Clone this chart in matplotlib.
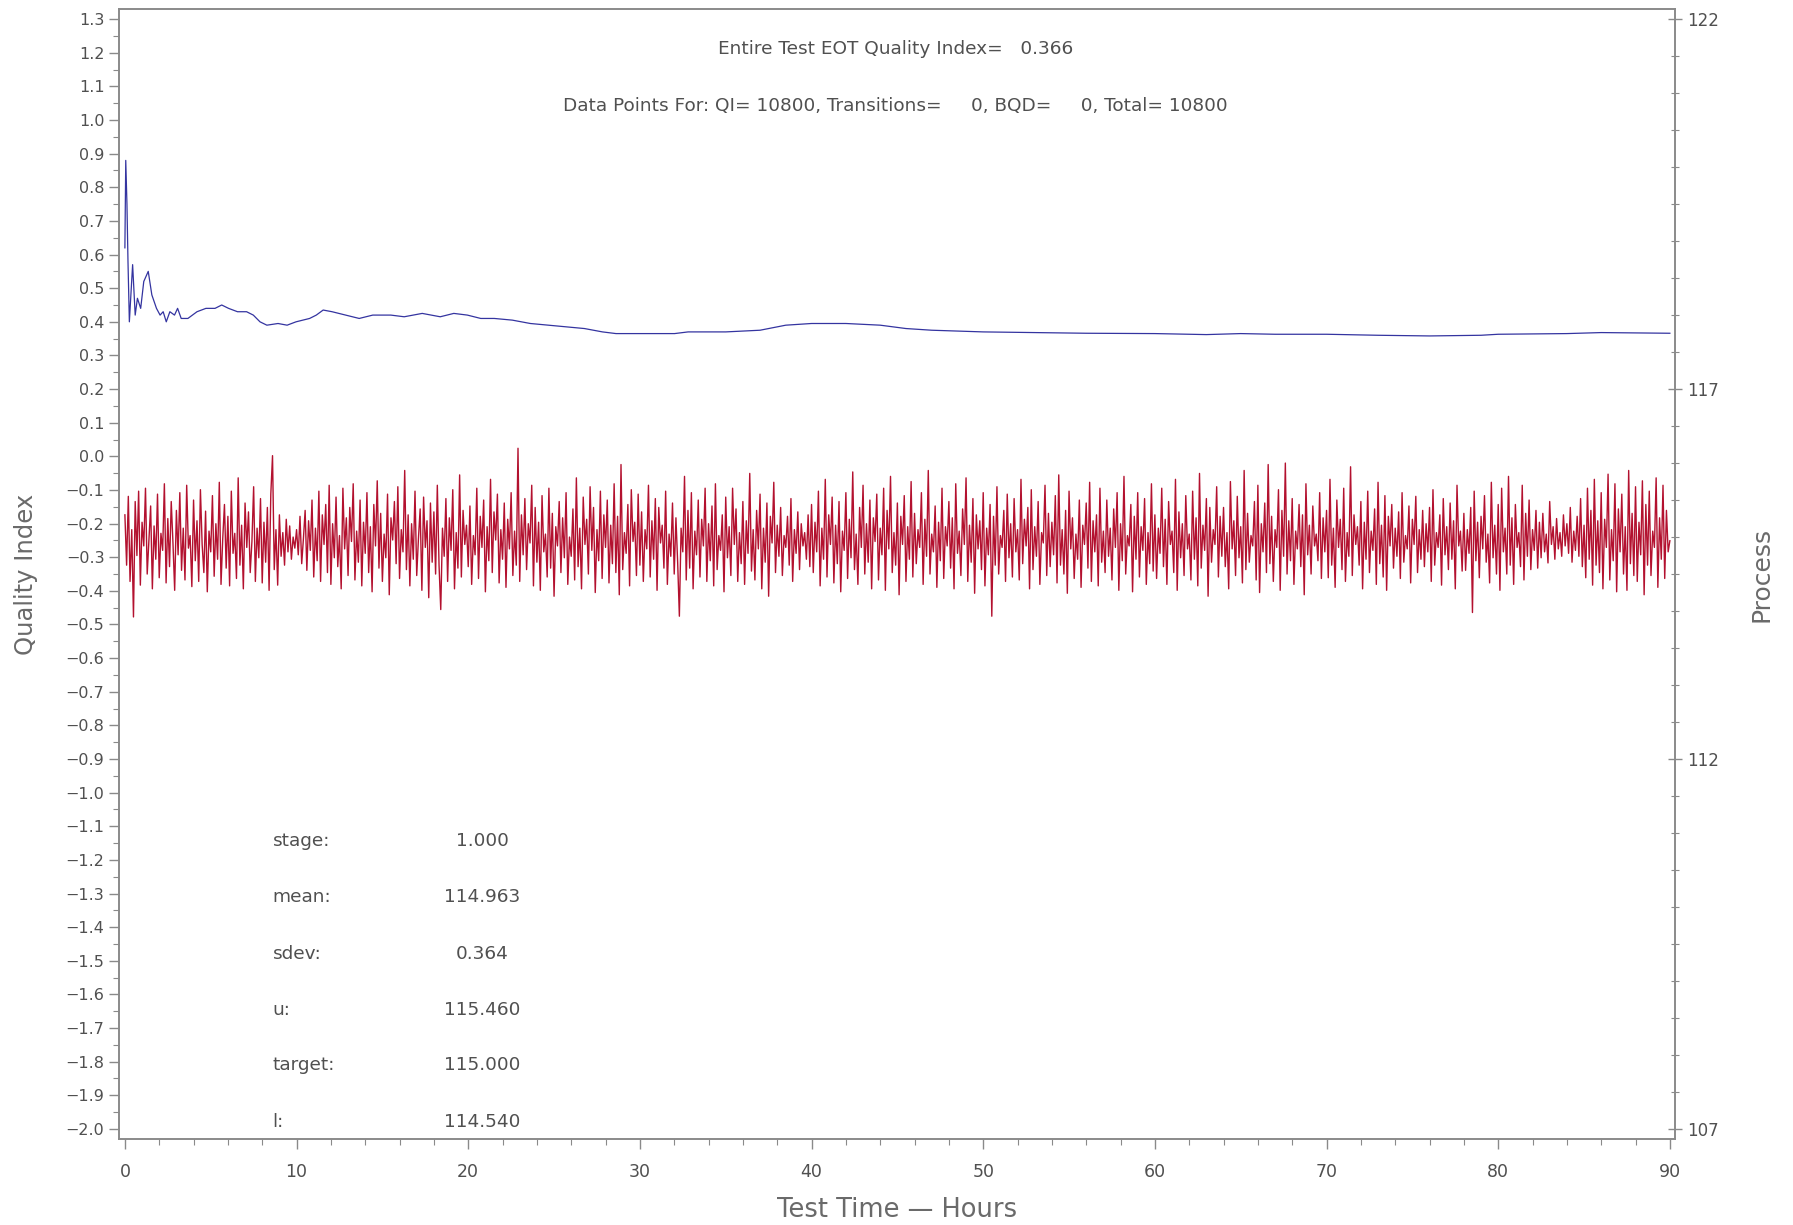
import matplotlib
matplotlib.use("Agg")
import matplotlib.pyplot as plt
from matplotlib.ticker import MultipleLocator, FixedLocator, FuncFormatter
import numpy as np

# cumulative quality index (blue)
qi_hours = [0.0, 0.05, 0.12, 0.18, 0.26, 0.45, 0.6, 0.73, 0.92, 1.1, 1.36, 1.57,
            1.84, 2.05, 2.23, 2.41, 2.62, 2.89, 3.07, 3.28, 3.67, 4.2, 4.72, 5.25,
            5.64, 6.04, 6.56, 7.09, 7.48, 7.87, 8.27, 8.92, 9.45, 9.97, 10.76,
            11.15, 11.55, 12.07, 12.86, 13.65, 14.44, 15.49, 16.27, 17.32, 18.37,
            19.16, 19.95, 20.73, 21.52, 22.57, 23.62, 24.67, 25.72, 26.77, 27.82,
            28.61, 29.92, 31.23, 32.02, 32.81, 33.8, 35.0, 37.0, 38.5, 40.0, 42.0,
            44.0, 45.5, 47.0, 50.0, 53.0, 56.0, 60.0, 63.0, 65.0, 67.0, 70.0, 73.0,
            76.0, 79.0, 80.0, 84.0, 86.0, 90.0]
qi_values = [0.62, 0.88, 0.75, 0.58, 0.40, 0.57, 0.42, 0.47, 0.44, 0.52, 0.55, 0.48,
             0.44, 0.42, 0.43, 0.40, 0.43, 0.42, 0.44, 0.41, 0.41, 0.43, 0.44, 0.44,
             0.45, 0.44, 0.43, 0.43, 0.42, 0.40, 0.39, 0.395, 0.39, 0.40, 0.41,
             0.42, 0.435, 0.43, 0.42, 0.41, 0.42, 0.42, 0.415, 0.425, 0.415,
             0.425, 0.42, 0.41, 0.41, 0.405, 0.395, 0.39, 0.385, 0.38, 0.37,
             0.365, 0.365, 0.365, 0.365, 0.37, 0.37, 0.37, 0.375, 0.39, 0.395, 0.395,
             0.39, 0.38, 0.375, 0.37, 0.368, 0.366, 0.365, 0.362, 0.365, 0.363, 0.363, 0.36,
             0.358, 0.36, 0.363, 0.365, 0.368, 0.366]

# process readings (red), one every 0.1 h
process_values = [
    115.30, 114.62, 115.55, 114.40, 115.10, 113.92, 115.48, 114.75, 115.62, 114.35, 115.20, 114.88, 115.66, 114.50, 114.95, 115.42, 114.30, 115.15, 114.70, 115.58,
    114.45, 115.05, 114.82, 115.72, 114.38, 115.25, 114.60, 115.48, 114.92, 114.28, 115.36, 114.76, 115.60, 114.55, 115.12, 114.42, 115.70, 114.85, 115.02, 114.33,
    115.50, 114.68, 115.22, 114.40, 115.64, 114.90, 114.52, 115.35, 114.26, 115.08, 114.80, 115.56, 114.47, 115.18, 114.70, 115.74, 114.36, 114.98, 115.44, 114.58,
    115.28, 114.34, 115.62, 114.78, 115.05, 114.44, 115.80, 114.62, 115.16, 114.30, 115.46, 114.86, 115.34, 114.52, 114.94, 115.68, 114.40, 115.12, 114.72, 115.52,
    114.38, 115.20, 114.66, 115.40, 114.28, 115.58, 116.10, 114.56, 115.10, 114.35, 115.30, 114.74, 115.06, 114.62, 115.24, 114.80, 115.15, 114.70, 115.00, 114.85,
    115.10, 114.76, 115.28, 114.64, 114.98, 115.36, 114.55, 115.22, 114.82, 115.50, 114.46, 115.12, 114.68, 115.62, 114.40, 115.30, 114.90, 115.44, 114.52, 115.70,
    114.36, 115.18, 114.72, 115.54, 114.60, 115.02, 114.30, 115.66, 114.84, 115.26, 114.48, 115.40, 114.94, 115.72, 114.42, 115.08, 114.66, 115.50, 114.34, 115.20,
    114.78, 115.60, 114.52, 115.14, 114.26, 115.44, 114.88, 115.76, 114.58, 115.32, 114.40, 115.04, 114.72, 115.58, 114.22, 115.26, 114.96, 115.48, 114.64, 115.68,
    114.44, 115.10, 114.80, 115.90, 114.56, 115.30, 114.34, 115.18, 114.70, 115.62, 114.48, 114.98, 115.38, 114.28, 115.54, 114.86, 115.22, 114.18, 115.46, 114.66,
    115.34, 114.50, 115.70, 114.62, 114.02, 115.12, 114.74, 115.52, 114.40, 115.26, 114.82, 115.64, 114.30, 115.06, 114.58, 115.84, 114.46, 115.36, 114.90, 115.16,
    114.60, 115.42, 114.36, 115.02, 114.76, 115.66, 114.44, 115.28, 114.86, 115.50, 114.26, 115.14, 114.68, 115.78, 114.52, 115.34, 114.96, 115.58, 114.38, 115.10,
    114.70, 115.46, 114.32, 115.24, 114.84, 115.60, 114.48, 115.08, 114.62, 116.20, 114.40, 115.30, 114.76, 115.52, 114.56, 115.18, 114.92, 115.70, 114.34, 115.40,
    114.66, 115.20, 114.28, 115.56, 114.80, 115.04, 114.46, 115.66, 114.58, 115.32, 114.20, 115.14, 114.88, 115.48, 114.52, 115.26, 114.72, 115.60, 114.36, 115.00,
    114.74, 115.38, 114.42, 115.80, 114.60, 115.12, 114.30, 115.54, 114.90, 115.24, 114.50, 115.68, 114.82, 115.40, 114.25, 115.10, 114.68, 115.62, 114.44, 115.30,
    114.86, 115.50, 114.38, 115.16, 114.64, 115.72, 114.52, 115.28, 114.22, 115.98, 114.56, 115.06, 114.78, 115.44, 114.34, 115.64, 114.94, 115.20, 114.48, 115.58,
    114.62, 115.34, 114.40, 115.10, 114.84, 115.70, 114.46, 115.22, 114.70, 115.52, 114.28, 115.40, 114.92, 115.16, 114.58, 115.62, 114.36, 115.04, 114.74, 115.46,
    114.50, 115.26, 114.66, 113.93, 115.12, 114.80, 115.82, 114.42, 115.36, 114.58, 115.60, 114.30, 115.08, 114.76, 115.50, 114.46, 115.24, 114.88, 115.66, 114.40,
    115.18, 114.68, 115.42, 114.34, 115.72, 114.56, 115.02, 114.82, 115.30, 114.26, 115.54, 114.72, 115.14, 114.48, 115.66, 114.90, 115.38, 114.40, 115.06, 114.64,
    115.48, 114.36, 115.22, 114.78, 115.86, 114.54, 115.10, 114.42, 115.36, 114.84, 115.58, 114.30, 115.12, 114.66, 115.46, 114.20, 115.28, 114.92, 115.74, 114.52,
    115.16, 114.74, 115.40, 114.48, 115.02, 114.86, 115.28, 114.62, 115.52, 114.40, 115.10, 114.78, 115.34, 114.56, 115.18, 114.88, 115.06, 114.70, 115.30, 114.60,
    115.44, 114.52, 115.20, 114.80, 115.62, 114.34, 115.12, 114.70, 115.78, 114.46, 115.30, 114.90, 115.54, 114.38, 115.16, 114.64, 115.48, 114.26, 115.08, 114.82,
    115.60, 114.44, 115.24, 114.72, 115.88, 114.56, 115.04, 114.36, 115.40, 114.86, 115.70, 114.50, 115.18, 114.66, 115.50, 114.30, 115.26, 114.94, 115.58, 114.42,
    115.12, 114.76, 115.66, 114.28, 115.36, 114.84, 115.82, 114.52, 115.06, 114.62, 115.46, 114.22, 115.28, 114.90, 115.56, 114.40, 115.14, 114.70, 115.75, 114.46,
    115.32, 114.64, 115.10, 114.86, 115.60, 114.36, 115.24, 114.74, 115.90, 114.50, 115.04, 114.80, 115.42, 114.32, 115.20, 114.68, 115.66, 114.44, 115.14, 114.88,
    115.48, 114.58, 115.26, 114.30, 115.72, 114.78, 115.08, 114.48, 115.38, 114.90, 115.80, 114.40, 115.16, 114.66, 115.52, 114.24, 115.30, 114.84, 115.22, 114.56,
    115.60, 114.34, 115.12, 114.76, 115.44, 113.93, 115.28, 114.62, 115.68, 114.50, 115.02, 114.86, 115.36, 114.40, 115.58, 114.72, 115.18, 114.46, 115.52, 114.80,
    115.10, 114.42, 115.78, 114.64, 115.24, 114.88, 115.40, 114.30, 115.64, 114.56, 115.14, 114.74, 115.48, 114.36, 115.06, 114.92, 115.70, 114.48, 115.32, 114.60,
    115.20, 114.76, 115.56, 114.38, 115.84, 114.62, 115.10, 114.50, 115.36, 114.24, 115.62, 114.84, 115.26, 114.44, 115.04, 114.70, 115.50, 114.32, 115.16, 114.90,
    115.46, 114.58, 115.74, 114.40, 115.22, 114.80, 115.30, 114.34, 115.66, 114.66, 115.08, 114.52, 115.50, 114.74, 115.12, 114.42, 115.38, 114.86, 115.60, 114.28,
    115.18, 114.68, 115.82, 114.50, 115.02, 114.88, 115.44, 114.26, 115.28, 114.70, 115.60, 114.46, 115.14, 114.82, 115.52, 114.36, 115.06, 114.64, 115.72, 114.54,
    115.30, 114.44, 115.12, 114.78, 115.66, 114.60, 115.24, 114.36, 115.48, 114.90, 115.08, 114.52, 115.78, 114.28, 115.34, 114.72, 115.18, 114.48, 115.56, 114.84,
    115.04, 114.42, 115.62, 114.70, 115.26, 114.34, 115.86, 114.58, 115.16, 114.82, 115.52, 114.20, 115.40, 114.66, 115.10, 114.90, 115.68, 114.46, 115.28, 114.74,
    115.40, 114.60, 115.06, 114.30, 115.75, 114.84, 115.22, 114.48, 115.55, 114.72, 115.14, 114.38, 115.90, 114.56, 115.32, 114.66, 115.02, 114.88, 115.48, 114.42,
    115.70, 114.25, 115.18, 114.80, 115.46, 114.52, 115.98, 114.64, 115.28, 114.40, 115.10, 114.86, 115.64, 114.28, 115.36, 114.74, 116.00, 114.50, 115.22, 114.68,
    115.52, 114.36, 115.08, 114.84, 115.44, 114.60, 115.30, 114.22, 115.72, 114.76, 115.16, 114.50, 115.42, 114.88, 115.04, 114.68, 115.60, 114.44, 115.26, 114.80,
    115.36, 114.45, 115.78, 114.62, 115.12, 114.32, 115.50, 114.86, 115.24, 114.56, 115.66, 114.40, 115.06, 114.74, 115.95, 114.48, 115.30, 114.90, 115.14, 114.62,
    115.48, 114.30, 115.20, 114.70, 115.62, 114.52, 115.08, 114.82, 115.38, 114.36, 115.74, 114.64, 115.16, 114.46, 115.56, 114.28, 115.28, 114.88, 115.44, 114.58,
    115.12, 114.74, 115.34, 114.44, 115.60, 114.66, 115.02, 114.84, 115.42, 114.38, 115.24, 114.90, 115.55, 114.52, 115.10, 114.70, 115.36, 114.60, 115.18, 114.80,
    115.40, 114.40, 115.64, 114.62, 115.06, 114.86, 115.30, 114.35, 115.52, 114.76, 115.14, 114.56, 115.46, 114.70, 115.22, 114.30, 115.70, 114.88, 115.08, 114.54,
    115.32, 114.55, 115.10, 114.78, 115.40, 113.98, 115.62, 114.68, 115.20, 114.45, 115.28, 114.84, 115.56, 114.66, 115.04, 114.38, 115.74, 114.72, 115.16, 114.50,
    115.44, 114.28, 115.66, 114.80, 115.12, 114.50, 115.82, 114.62, 115.26, 114.36, 115.44, 114.86, 115.06, 114.60, 115.70, 114.42, 115.32, 114.74, 115.50, 114.56,
    115.10, 114.82, 115.36, 114.58, 115.20, 114.72, 115.32, 114.80, 115.04, 114.65, 115.48, 114.90, 115.14, 114.70, 115.25, 114.84, 115.06, 114.74, 115.30, 114.88,
    115.18, 114.78, 115.40, 114.66, 115.08, 114.82, 115.28, 114.74, 115.52, 114.60, 115.16, 114.45, 115.66, 114.70, 115.36, 114.35, 115.78, 114.62, 115.22, 114.52,
    115.60, 114.30, 115.24, 114.86, 115.85, 114.42, 115.10, 114.68, 115.72, 114.26, 115.38, 114.80, 115.58, 114.50, 115.14, 114.28, 115.90, 114.64, 115.32, 114.48,
    115.68, 114.40, 115.20, 114.76, 115.76, 114.22, 115.44, 114.62, 115.62, 114.48, 115.08, 114.86, 115.80, 114.32, 115.26, 114.70, 115.70, 114.44, 115.36, 114.80,
    114.95,
]
process_step = 0.1

stat_labels = ["stage:", "mean:", "sdev:", "u:", "target:", "l:"]
stat_values = ["1.000", "114.963", "0.364", "115.460", "115.000", "114.540"]

title_line1 = "Entire Test EOT Quality Index=   0.366"
title_line2 = "Data Points For: QI= 10800, Transitions=     0, BQD=     0, Total= 10800"

txt = "#505050"
axc = "#8a8a8a"


def minus_fmt(v, pos):
    s = "%.1f" % v
    if s == "-0.0":
        s = "0.0"
    return s.replace("-", "\u2212")


fig = plt.figure(figsize=(17.93, 12.25), dpi=100)
ax = fig.add_axes([0.0664, 0.0702, 0.8678, 0.9224])
ax2 = ax.twinx()

ax.set_xlim(-0.34, 90.3)
ax.set_ylim(-2.03, 1.33)
ax2.set_ylim(107 + (-2.03 + 2) * 15 / 3.3, 107 + (1.33 + 2) * 15 / 3.3)

hours = np.arange(len(process_values)) * process_step
ax2.plot(hours, process_values, color="#b3112f", lw=1.0)
ax.plot(qi_hours, qi_values, color="#3434a0", lw=0.9)
ax.set_zorder(ax2.get_zorder() + 1)
ax.patch.set_visible(False)

ax.xaxis.set_major_locator(MultipleLocator(10))
ax.xaxis.set_minor_locator(MultipleLocator(2))
ax.yaxis.set_major_locator(MultipleLocator(0.1))
ax.yaxis.set_minor_locator(MultipleLocator(0.05))
ax.yaxis.set_major_formatter(FuncFormatter(minus_fmt))
ax2.yaxis.set_major_locator(FixedLocator([107, 112, 117, 122]))
ax2.yaxis.set_minor_locator(FixedLocator(np.arange(107, 122.01, 0.5)))

ax.tick_params(axis="both", which="major", direction="out", length=7, width=1,
               color=axc, labelcolor=txt, labelsize=11.5)
ax.tick_params(axis="both", which="minor", direction="out", length=4, width=0.8, color=axc)
ax.tick_params(axis="x", pad=10, labelsize=12.5)
ax2.tick_params(axis="y", which="major", direction="inout", length=10, width=1,
                color=axc, labelcolor=txt, labelsize=12)
ax2.tick_params(axis="y", which="minor", direction="inout", length=6, width=0.8, color=axc)

for a in (ax, ax2):
    for s in a.spines.values():
        s.set_color(axc)
        s.set_linewidth(1.2)

ax.set_xlabel("Test Time \u2014 Hours", fontsize=18.5, color="#6a6a6a", labelpad=12)
ax.set_ylabel("Quality Index", fontsize=17.5, color="#6a6a6a", labelpad=20)
ax2.set_ylabel("Process", fontsize=18, color="#6a6a6a", labelpad=22)

ax.text(44.9, 1.21, title_line1, ha="center", va="center", fontsize=13.3, color=txt)
ax.text(44.9, 1.043, title_line2, ha="center", va="center", fontsize=13.3, color=txt)

stat_y = [-1.145, -1.31, -1.48, -1.645, -1.81, -1.98]
for lab, val, yy in zip(stat_labels, stat_values, stat_y):
    ax.text(8.6, yy, lab, ha="left", va="center", fontsize=13.3, color=txt)
    ax.text(20.8, yy, val, ha="center", va="center", fontsize=13.3, color=txt)

fig.savefig("out.png", dpi=100)
plt.close(fig)
